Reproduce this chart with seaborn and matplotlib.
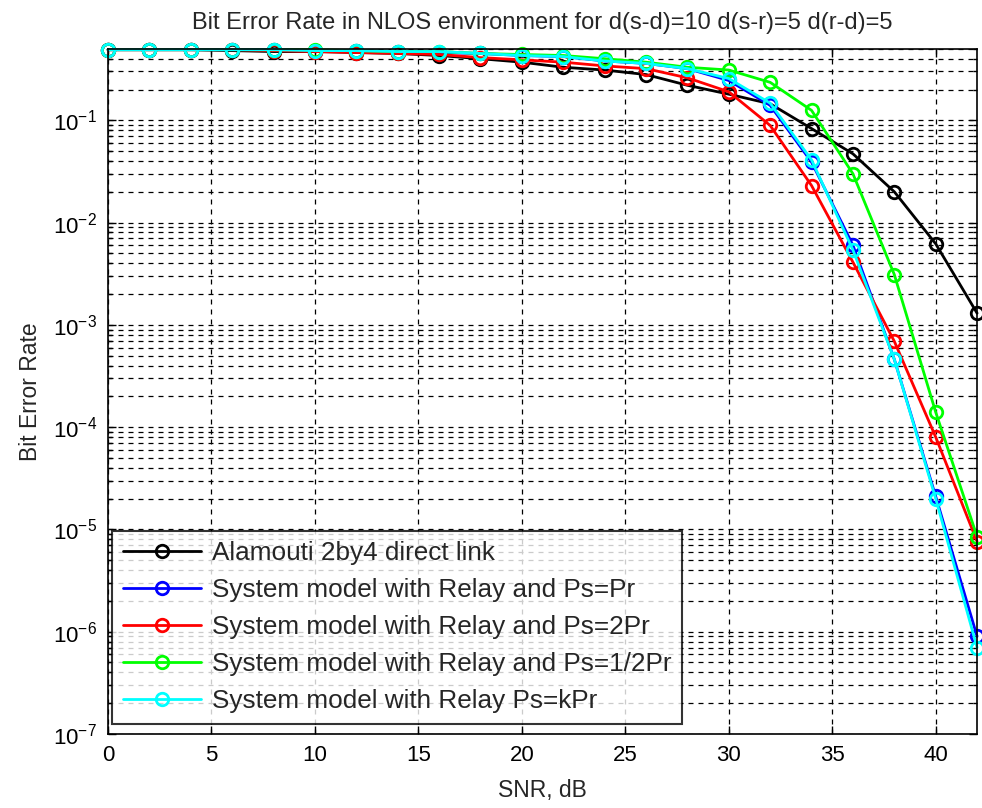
import numpy as np
import pandas as pd
import seaborn as sns
import matplotlib.pyplot as plt
from matplotlib.ticker import LogLocator, FixedLocator, NullFormatter, FuncFormatter

sns.set_style("white")
plt.rcParams["font.family"] = ["Liberation Sans", "DejaVu Sans"]
plt.rcParams["mathtext.default"] = "regular"

snr = list(range(0, 44, 2))

ber_direct = [0.49, 0.49, 0.49, 0.48, 0.47, 0.47, 0.46, 0.45, 0.43, 0.40, 0.37,
              0.33, 0.31, 0.28, 0.22, 0.18, 0.145, 0.083, 0.047, 0.020, 0.0062, 0.0013]
ber_equal = [0.49, 0.49, 0.49, 0.49, 0.49, 0.48, 0.48, 0.47, 0.46, 0.45, 0.43,
             0.42, 0.38, 0.36, 0.32, 0.245, 0.14, 0.039, 0.006, 4.6e-4, 2.1e-5, 9e-7]
ber_double = [0.49, 0.49, 0.49, 0.49, 0.48, 0.47, 0.46, 0.45, 0.44, 0.41, 0.39,
              0.37, 0.34, 0.32, 0.26, 0.19, 0.089, 0.023, 0.0041, 6.9e-4, 8e-5, 7.6e-6]
ber_half = [0.49, 0.49, 0.49, 0.49, 0.49, 0.49, 0.48, 0.47, 0.47, 0.45, 0.44,
            0.43, 0.40, 0.37, 0.33, 0.31, 0.235, 0.125, 0.030, 0.0031, 1.4e-4, 8.5e-6]
ber_k = [0.49, 0.49, 0.49, 0.49, 0.49, 0.48, 0.48, 0.47, 0.47, 0.45, 0.43,
         0.42, 0.38, 0.36, 0.32, 0.256, 0.147, 0.041, 0.0054, 4.6e-4, 2e-5, 7e-7]

labels = [
    "Alamouti 2by4 direct link",
    "System model with Relay and Ps=Pr",
    "System model with Relay and Ps=2Pr",
    "System model with Relay and Ps=1/2Pr",
    "System model with Relay Ps=kPr",
]
colors = ["#000000", "#0000ff", "#ff0000", "#00ff00", "#00ffff"]
series = [ber_direct, ber_equal, ber_double, ber_half, ber_k]

df = pd.concat(
    [pd.DataFrame({"snr": snr, "ber": s, "model": lab}) for s, lab in zip(series, labels)],
    ignore_index=True,
)

fig = plt.figure(figsize=(9.82, 8.08), dpi=100)
ax = fig.add_axes([0.110, 0.0916, 0.885, 0.848])

sns.lineplot(
    data=df,
    x="snr",
    y="ber",
    hue="model",
    hue_order=labels,
    palette=colors,
    marker="o",
    markerfacecolor="none",
    clip_on=False,
    ax=ax,
)
for ln, c in zip(ax.lines, colors):
    ln.set_linewidth(2.0)
    ln.set_markersize(9)
    ln.set_markeredgewidth(2.0)
    ln.set_markeredgecolor(c)
    ln.set_markerfacecolor("none")

ax.set_yscale("log")
ax.set_xlim(0, 42)
ax.set_ylim(1e-7, 0.5)
ax.xaxis.set_major_locator(FixedLocator(list(range(0, 45, 5))))
ax.yaxis.set_major_locator(LogLocator(base=10, numticks=20))
ax.yaxis.set_minor_locator(LogLocator(base=10, subs=np.arange(2, 10), numticks=20))
ax.yaxis.set_minor_formatter(NullFormatter())
ax.yaxis.set_major_formatter(FuncFormatter(lambda v, p: f"$10^{{{int(round(np.log10(v)))}}}$"))

dash = (0, (4, 4))
ax.grid(True, which="major", axis="both", color="k", ls=dash, lw=0.9)
ax.grid(True, which="minor", axis="y", color="k", ls=dash, lw=0.9)

ax.tick_params(which="both", direction="in", top=True, right=True, left=True, bottom=True,
               labelsize=16, colors="k")
ax.tick_params(which="major", length=6, width=1, pad=8)
ax.tick_params(which="minor", length=3, width=1)
for sp in ax.spines.values():
    sp.set_color("k")
    sp.set_linewidth(1.2)

ax.set_xlabel("SNR, dB", fontsize=16.5, labelpad=9)
ax.set_ylabel("Bit Error Rate", fontsize=16.5, labelpad=8)
ax.set_title("Bit Error Rate in NLOS environment for d(s-d)=10 d(s-r)=5 d(r-d)=5",
             fontsize=17, pad=14)

ax.get_legend().remove()
leg = ax.legend(ax.lines[:5], labels, loc="lower left", bbox_to_anchor=(0.005, 0.015),
                fontsize=18.8, frameon=True, fancybox=False, edgecolor="k",
                handlelength=3.0, borderpad=0.4, labelspacing=0.5, handletextpad=0.4,
                borderaxespad=0)
leg.get_frame().set_linewidth(1.5)

fig.savefig("out.png", dpi=100)
